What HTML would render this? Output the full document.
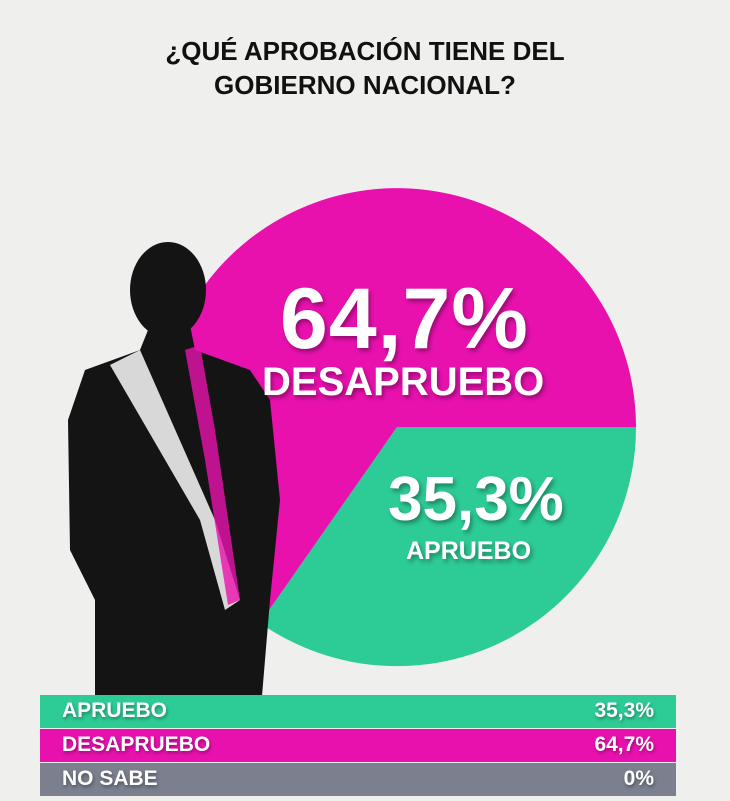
<!DOCTYPE html>
<html><head><meta charset="utf-8"><style>
body{margin:0;width:730px;height:801px;overflow:hidden;background:#efefed;font-family:"Liberation Sans",sans-serif;}
.t{position:absolute;font-weight:bold;color:#fff;text-shadow:2px 3px 4px rgba(0,0,0,.35);white-space:nowrap;}
.row{position:absolute;left:40px;width:636px;height:33px;}
.row span{position:absolute;top:4px;font-size:21px;font-weight:bold;color:#fff;text-shadow:1px 2px 3px rgba(0,0,0,.35);}
</style></head><body>
<svg width="730" height="801" style="position:absolute;left:0;top:0">
<path d="M397,427 L636,427 A239,239 0 0 1 260,623 Z" fill="#2dcb95"/>
<path d="M397,427 L260,623 A239,239 0 1 1 636,427 Z" fill="#e811ae"/>
<g fill="#141414">
<ellipse cx="168" cy="290" rx="38" ry="48"/>
<path d="M150,325 L190,325 L195,350 L250,370 L270,400 L280,500 L270,600 L262,696 L95,696 L95,600 L70,550 L68,420 L85,370 L140,350 Z"/>
</g>
<path d="M110,365 L140,350 L215,520 L240,600 L225,610 L200,520 Z" fill="#d8d8d8"/>
<path d="M185,350 L200,345 L215,430 L240,600 L228,605 L205,460 Z" fill="#e811ae" opacity=".8"/>
<text x="365" y="60" font-size="26" font-weight="bold" text-anchor="middle" font-family="Liberation Sans" fill="#111">¿QUÉ APROBACIÓN TIENE DEL</text>
<text x="365" y="94" font-size="26" font-weight="bold" text-anchor="middle" font-family="Liberation Sans" fill="#111">GOBIERNO NACIONAL?</text>
</svg>
<div class="t" style="left:280px;top:270px;font-size:86px;letter-spacing:1px">64,7%</div>
<div class="t" style="left:262px;top:360px;font-size:40px">DESAPRUEBO</div>
<div class="t" style="left:388px;top:464px;font-size:62px">35,3%</div>
<div class="t" style="left:406px;top:537px;font-size:25px">APRUEBO</div>
<div class="row" style="top:695px;background:#2dcb95"><span style="left:22px">APRUEBO</span><span style="right:22px">35,3%</span></div>
<div class="row" style="top:729px;background:#e811ae"><span style="left:22px">DESAPRUEBO</span><span style="right:22px">64,7%</span></div>
<div class="row" style="top:763px;background:#7b7f8e"><span style="left:22px">NO SABE</span><span style="right:22px">0%</span></div>
</body></html>
